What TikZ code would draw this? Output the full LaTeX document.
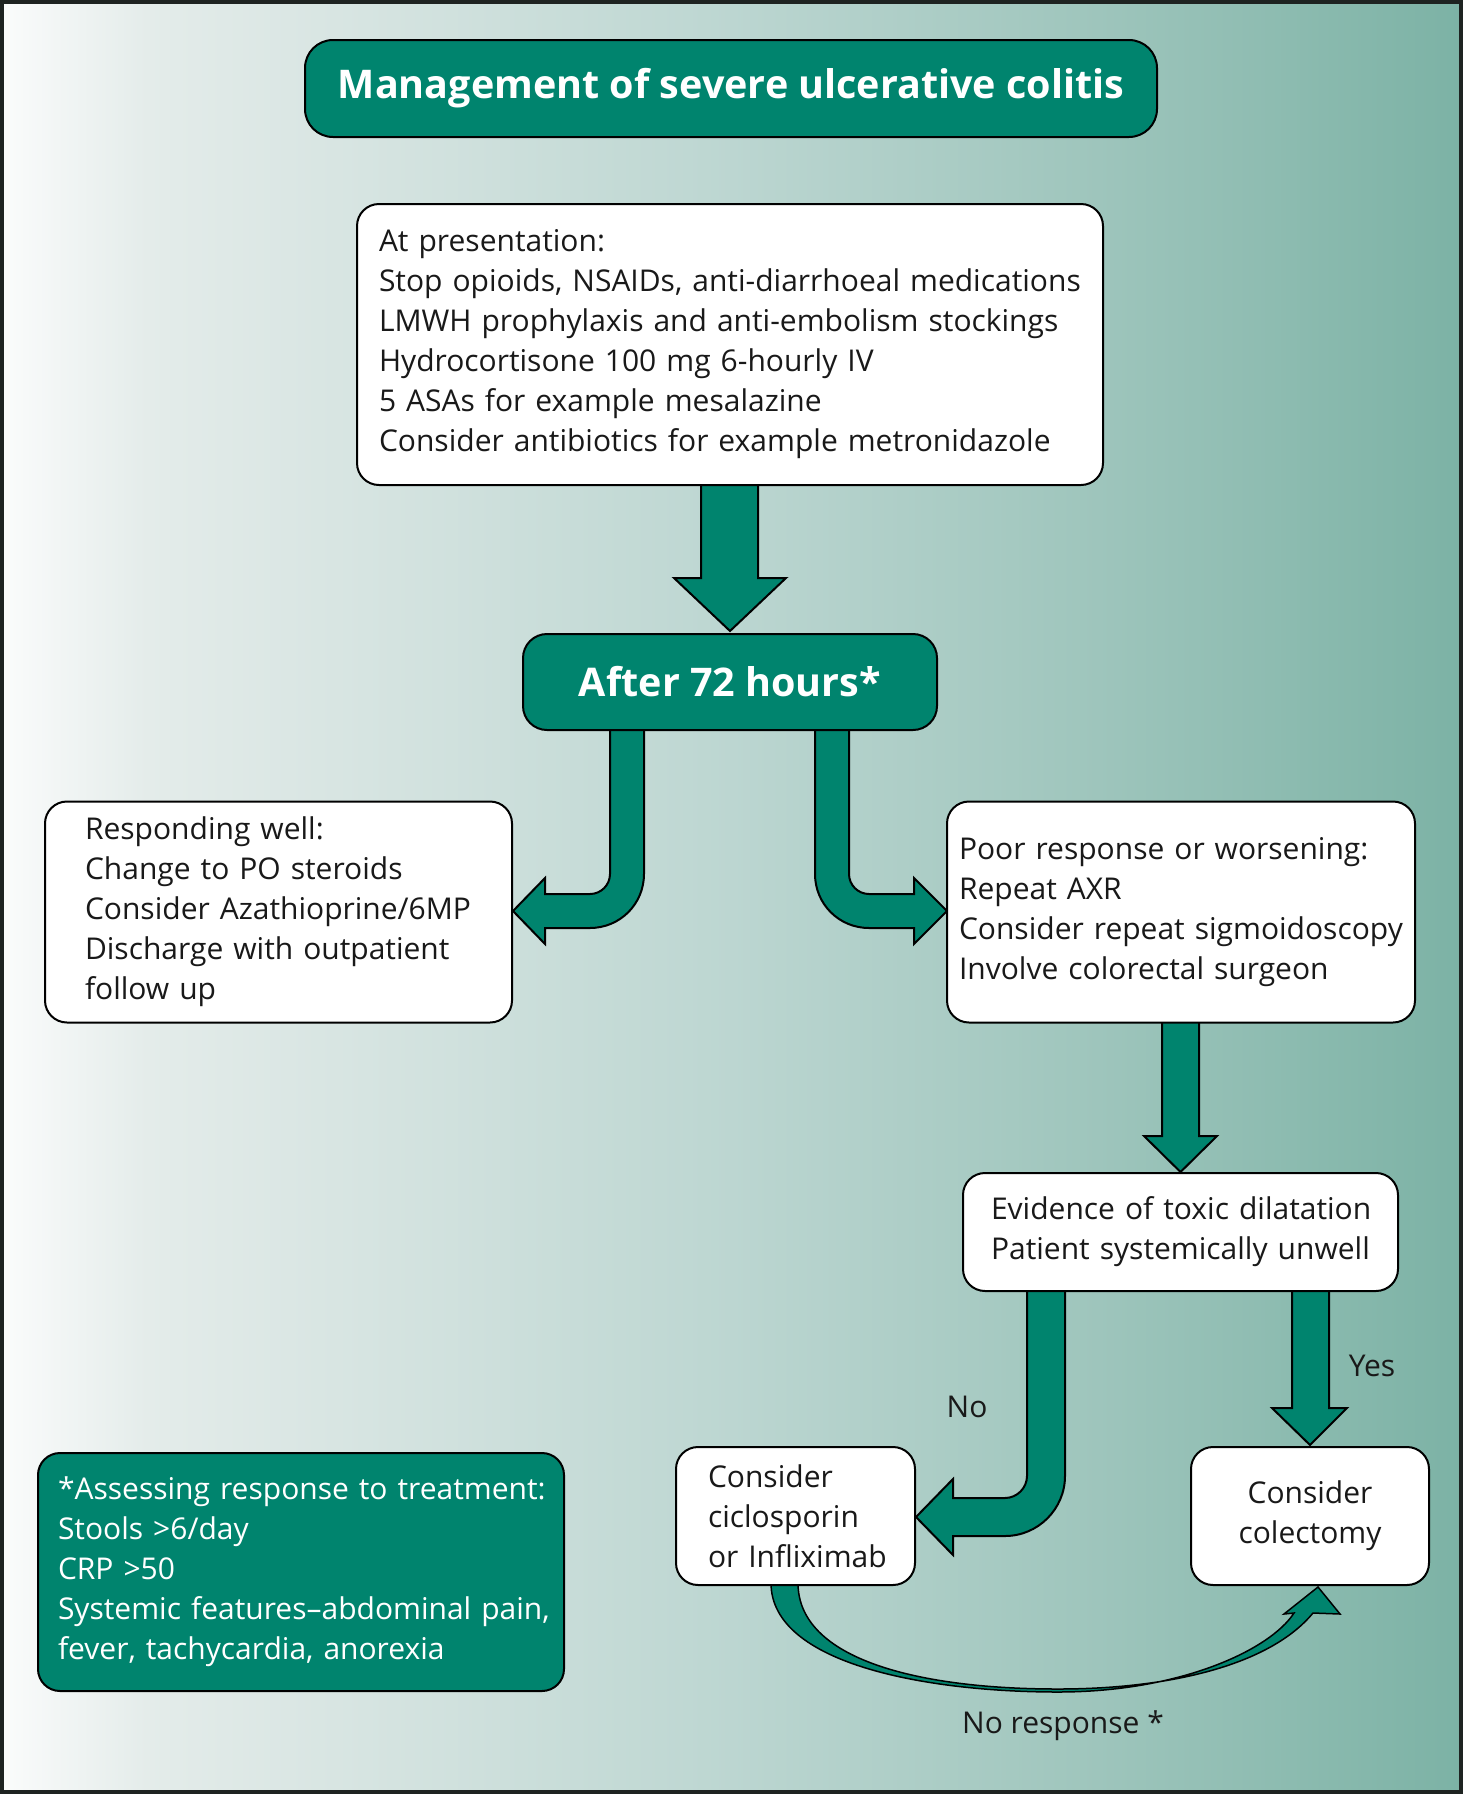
\documentclass[tikz,border=0pt]{standalone}
\usepackage{fontspec}
\setmainfont{Open Sans}
\definecolor{tealbox}{HTML}{00846E}
\definecolor{framec}{HTML}{1E2321}
\definecolor{bgA}{HTML}{FBFCFC}
\definecolor{bgB}{HTML}{E4ECEA}
\definecolor{bgC}{HTML}{D6E4E1}
\definecolor{bgD}{HTML}{BCD6D1}
\definecolor{bgE}{HTML}{9EC5BC}
\definecolor{bgF}{HTML}{7CB2A5}
\pgfdeclarehorizontalshading{bgshade}{100bp}{color(0bp)=(bgA); color(25bp)=(bgA); color(30bp)=(bgB); color(37.5bp)=(bgC); color(50bp)=(bgD); color(62.5bp)=(bgE); color(75bp)=(bgF); color(100bp)=(bgF)}
\newcommand\bodyfont{\fontsize{30}{40}\selectfont}
\newcommand\headfont{\fontsize{39.5}{46}\selectfont\bfseries}
\hfuzz=200pt
\begin{document}
\begin{tikzpicture}[x=1pt,y=-1pt,
  wbox/.style={draw=black, line width=2pt, fill=white, rounded corners=22pt, align=left, font=\bodyfont, text=black!90, inner ysep=4pt},
  tbox/.style={draw=black, line width=2pt, fill=tealbox, rounded corners=24pt, text=white, font=\headfont, inner ysep=4pt},
  fatarrow/.style={draw=black, line width=2pt, fill=tealbox, line join=miter},
  lbl/.style={font=\bodyfont, text=black!90}
]
\useasboundingbox (0,0) rectangle (1463,1794);
\shade[shading=bgshade] (0,0) rectangle (1463,1794);
\draw[line width=4pt, draw=framec] (2,2) rectangle (1461,1792);

% fat arrows (drawn first, boxes cover their roots)
\filldraw[fatarrow] (701,481) -- (701,578) -- (674,578) -- (730,631) -- (786,578) -- (758,578) -- (758,481) -- cycle;
\filldraw[fatarrow] (610,728) -- (610,874) .. controls (610,885) and (601,894) .. (590,894) -- (545,894) -- (545,878) -- (513,911) -- (545,944) -- (545,928) -- (590,928) .. controls (620,928) and (644,904) .. (644,874) -- (644,728) -- cycle;
\filldraw[fatarrow] (849,728) -- (849,874) .. controls (849,885) and (858,894) .. (869,894) -- (914,894) -- (914,878) -- (947,911) -- (914,944) -- (914,928) -- (869,928) .. controls (839,928) and (815,904) .. (815,874) -- (815,728) -- cycle;
\filldraw[fatarrow] (1162,1019) -- (1162,1136) -- (1144,1136) -- (1180.5,1172) -- (1217,1136) -- (1199,1136) -- (1199,1019) -- cycle;
\filldraw[fatarrow] (1027,1288) -- (1027,1476) .. controls (1027,1488) and (1017,1498) .. (1005,1498) -- (953,1498) -- (953,1479) -- (916,1517) -- (953,1555) -- (953,1536) -- (1005,1536) .. controls (1038,1536) and (1065,1509) .. (1065,1476) -- (1065,1288) -- cycle;
\filldraw[fatarrow] (1292,1288) -- (1292,1408) -- (1272,1408) -- (1310,1445) -- (1347,1408) -- (1329,1408) -- (1329,1288) -- cycle;
\filldraw[fatarrow, line width=1.5pt] (771,1583) .. controls (771,1665) and (930,1692) .. (1058,1692) .. controls (1180,1692) and (1270,1650) .. (1294,1613) -- (1284,1614) -- (1318,1587) -- (1340,1614) -- (1313,1613) .. controls (1270,1665) and (1170,1689) .. (1058,1689) .. controls (920,1689) and (798,1660) .. (798,1583) -- cycle;

% boxes
\node[tbox, rounded corners=28pt, minimum width=852pt, minimum height=97pt] (title) at (731,88.5) {Management of severe ulcerative colitis};
\node[wbox, text width=702pt, inner xsep=22pt, minimum height=281pt] (pres) at (730,344.5) {\mbox{At presentation:}\\\mbox{Stop opioids, NSAIDs, anti-diarrhoeal medications}\\\mbox{LMWH prophylaxis and anti-embolism stockings}\\\mbox{Hydrocortisone 100 mg 6-hourly IV}\\\mbox{5 ASAs for example mesalazine}\\\mbox{Consider antibiotics for example metronidazole}};
\node[tbox, minimum width=414pt, minimum height=96pt] (after) at (730,682) {After 72 hours*};
\node[wbox, text width=387pt, inner xsep=40pt, minimum height=221pt] (good) at (278.5,912) {\mbox{Responding well:}\\\mbox{Change to PO steroids}\\\mbox{Consider Azathioprine/6MP}\\\mbox{Discharge with outpatient}\\\mbox{follow up}};
\node[wbox, text width=444pt, inner xsep=12pt, minimum height=221pt] (poor) at (1181,912) {\mbox{Poor response or worsening:}\\\mbox{Repeat AXR}\\\mbox{Consider repeat sigmoidoscopy}\\\mbox{Involve colorectal surgeon}};
\node[wbox, text width=379pt, inner xsep=28pt, minimum height=118pt] (toxic) at (1180.5,1232) {\mbox{Evidence of toxic dilatation}\\\mbox{Patient systemically unwell}};
\node[wbox, text width=175pt, inner xsep=32pt, minimum height=138pt] (cyclo) at (795.5,1516) {\mbox{Consider}\\\mbox{ciclosporin}\\\mbox{or Infliximab}};
\node[wbox, text width=200pt, inner xsep=19pt, minimum height=138pt, align=center] (colec) at (1310,1516) {Consider\\colectomy};
\node[wbox, fill=tealbox, text=white, text width=486pt, inner xsep=20pt, minimum height=238pt] (note) at (301,1572) {\mbox{*Assessing response to treatment:}\\\mbox{Stools >6/day}\\\mbox{CRP >50}\\\mbox{Systemic features--abdominal pain,}\\\mbox{fever, tachycardia, anorexia}};

% labels
\node[lbl] (lno) at (967,1407) {No};
\node[lbl] (lyes) at (1372,1366) {Yes};
\node[lbl] (lnr) at (1063,1726) {No response *};
\end{tikzpicture}
\end{document}
